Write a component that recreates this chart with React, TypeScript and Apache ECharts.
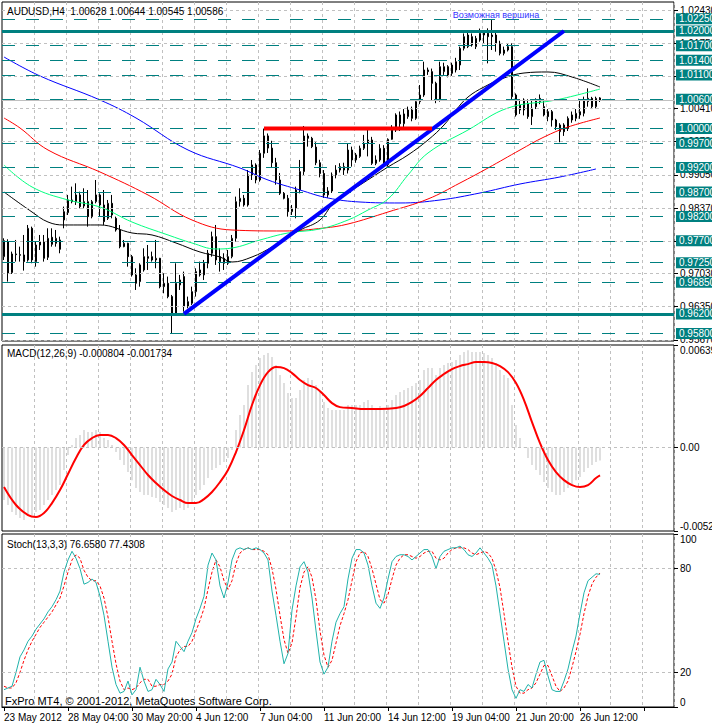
import React, { useEffect, useRef } from "react";
import * as echarts from "echarts";

// ---------- DATA ----------
const opens = [0.97375,0.97683,0.97048,0.9743,0.97416,0.9741,0.97307,0.97956,0.97273,0.97614,0.97683,0.97361,0.97772,0.97648,0.97717,0.98127,0.98277,0.98537,0.98502,0.9864,0.98414,0.98502,0.98195,0.98502,0.9864,0.98434,0.98161,0.98468,0.98161,0.97922,0.9758,0.97649,0.97375,0.97,0.96863,0.97102,0.97375,0.97375,0.97307,0.97341,0.9676,0.96829,0.96556,0.96214,0.96795,0.96966,0.96351,0.96419,0.96658,0.97102,0.97,0.97239,0.97444,0.97785,0.97375,0.97341,0.97239,0.97375,0.97751,0.98502,0.98571,0.98434,0.9905,0.99254,0.98946,0.99493,0.9985,0.996,0.993,0.98946,0.98673,0.98571,0.98297,0.98366,0.98741,0.99118,0.99848,0.998,0.9962,0.993,0.9908,0.9864,0.9872,0.9905,0.9915,0.9922,0.9915,0.9956,0.99357,0.9943,0.99596,0.99698,0.99766,0.99288,0.99357,0.99596,0.9926,0.9978,0.99971,1.00279,1.001,1.00245,1.00381,1.0021,1.00552,1.00688,1.01201,1.01167,1.00928,1.00586,1.01167,1.01269,1.01132,1.01201,1.01303,1.01645,1.01679,1.01884,1.01679,1.01815,1.01986,1.01952,1.01918,1.01918,1.01747,1.01542,1.0161,1.01679,1.00688,1.00381,1.00586,1.00518,1.00245,1.00586,1.00552,1.00449,1.00347,1.00347,1.00176,0.99937,1.00074,1.0,1.00176,1.0021,1.00279,1.00313,1.00552,1.0062,1.00449,1.00628];
const highs = [0.97751,0.97731,0.97478,0.97717,0.9758,0.97819,0.98024,0.9799,0.97683,0.97819,0.97819,0.97956,0.97956,0.97922,0.97785,0.984,0.9864,0.9881,0.98878,0.98707,0.98776,0.98741,0.98537,0.98946,0.98673,0.98741,0.98537,0.9864,0.98195,0.98024,0.97717,0.9766,0.9741,0.97136,0.97239,0.97546,0.97614,0.97478,0.97717,0.9735,0.97034,0.96966,0.9659,0.97239,0.97,0.97068,0.96556,0.9676,0.97136,0.97273,0.97307,0.97512,0.97888,0.98024,0.97546,0.97444,0.97512,0.97819,0.98605,0.98776,0.9864,0.99151,0.99356,0.99288,0.99561,1.0,0.999,0.9975,0.994,0.9909,0.987,0.9864,0.98434,0.9881,0.99357,1.00053,0.999,0.9983,0.9972,0.9936,0.9915,0.988,0.991,0.9925,0.9929,0.993,0.997,0.9963,0.995,0.9965,0.9987,1.0,0.9983,0.9945,0.9968,0.9966,0.998,1.0007,1.00313,1.0035,1.004,1.0045,1.0045,1.006,1.00893,1.01371,1.0125,1.0123,1.0096,1.01371,1.0135,1.013,1.0135,1.0145,1.01679,1.0195,1.0199,1.0195,1.019,1.0205,1.0202,1.02055,1.02225,1.01986,1.018,1.0168,1.0175,1.01747,1.0072,1.006,1.0062,1.006,1.00586,1.0062,1.007,1.006,1.004,1.0038,1.002,1.0011,1.0011,1.0025,1.0035,1.004,1.006,1.00654,1.00825,1.0065,1.00654,1.00644];
const lows = [0.97307,0.96863,0.9702,0.97273,0.97273,0.97089,0.97273,0.9724,0.9717,0.97512,0.97273,0.97307,0.9758,0.9758,0.97444,0.97956,0.98229,0.98468,0.98434,0.98366,0.98366,0.9799,0.98161,0.98468,0.98195,0.98024,0.98127,0.98161,0.97888,0.97546,0.97567,0.9717,0.96966,0.96692,0.9676,0.97068,0.97102,0.97273,0.97136,0.96726,0.96624,0.96522,0.95804,0.9618,0.96692,0.96248,0.96317,0.96385,0.96556,0.96966,0.96897,0.97136,0.97375,0.97205,0.97068,0.97102,0.97205,0.97341,0.97683,0.984,0.984,0.984,0.98946,0.98878,0.98912,0.994,0.995,0.992,0.9885,0.98639,0.9855,0.98195,0.98229,0.98161,0.98672,0.9905,0.9963,0.996,0.9925,0.99,0.9858,0.9858,0.9868,0.9898,0.991,0.9905,0.9908,0.9922,0.993,0.994,0.99562,0.9943,0.99255,0.9925,0.9932,0.9922,0.9922,0.9977,0.9993,0.9995,1.0,1.002,1.0015,1.0018,1.005,1.0065,1.011,1.00586,1.0052,1.00552,1.011,1.0105,1.0108,1.0115,1.01201,1.016,1.0165,1.0168,1.0163,1.0178,1.01747,1.01337,1.0161,1.01576,1.015,1.015,1.0158,1.00586,1.00245,1.003,1.0027,1.002,1.00074,1.004,1.005,1.0025,1.0015,1.0004,0.9997,0.9972,0.9985,0.9995,1.0012,1.0015,1.002,1.0025,1.00449,1.004,1.00415,1.00545];
const closes = [0.97703,0.97034,0.9743,0.97416,0.97403,0.97273,0.97956,0.97307,0.97614,0.97683,0.97341,0.97751,0.97628,0.97751,0.97526,0.98297,0.98537,0.98502,0.9864,0.984,0.98502,0.98195,0.98502,0.9864,0.98434,0.98093,0.98468,0.98229,0.97922,0.9758,0.97649,0.97375,0.97,0.96829,0.97205,0.97375,0.97341,0.97307,0.97341,0.9676,0.96829,0.96556,0.96214,0.96829,0.96897,0.96351,0.96453,0.96658,0.97068,0.97,0.97239,0.97444,0.97785,0.97307,0.97273,0.97239,0.97375,0.97751,0.98502,0.98571,0.98434,0.9905,0.99254,0.98946,0.99493,0.9985,0.996,0.993,0.98946,0.98673,0.98571,0.98297,0.98366,0.98741,0.99118,0.99848,0.998,0.9963,0.993,0.9908,0.9864,0.9872,0.9905,0.9915,0.9922,0.9915,0.9956,0.99357,0.9946,0.99596,0.99698,0.99766,0.99288,0.99357,0.99596,0.9926,0.9978,1.00005,1.00279,1.001,1.003,1.00381,1.0021,1.00552,1.00688,1.01201,1.01167,1.00928,1.00586,1.01269,1.01269,1.01098,1.01303,1.01371,1.01645,1.01884,1.01918,1.01713,1.01849,1.01952,1.01918,1.01884,1.01884,1.01747,1.01542,1.0161,1.01679,1.00654,1.00279,1.00483,1.00381,1.00245,1.00415,1.00449,1.0062,1.00279,1.00245,1.00176,1.0004,1.00074,0.99937,1.0021,1.00279,1.00313,1.00347,1.00586,1.0062,1.00449,1.0062,1.00586];

// moving averages, read at points along each line: [bar, price]
const maBlack = [[0,0.987],[7,0.9829],[11,0.98085],[15,0.98024],[24,0.98024],[32,0.9786],[37,0.97819],[43,0.97655],[49,0.9747],[54,0.97368],[57,0.97265],[62,0.97368],[67,0.97573],[71,0.97778],[74,0.97921],[79,0.98126],[83,0.98536],[89,0.98844],[96,0.99213],[101,0.99459],[106,0.99766],[110,1.00073],[113,1.00381],[116,1.00647],[120,1.00852],[125,1.01037],[130,1.01139],[136,1.0116],[142,1.01057],[149,1.00852]];
const maGreen = [[0,0.99254],[7,0.98803],[16,0.98536],[24,0.98393],[32,0.98085],[41,0.97819],[47,0.97655],[53,0.97532],[57,0.97552],[64,0.97716],[71,0.9786],[79,0.97942],[86,0.98126],[91,0.98331],[96,0.98557],[101,0.99049],[106,0.995],[116,0.99971],[126,1.00422],[138,1.00586],[149,1.00811]];
const maRed = [[0,1.00217],[4,1.00012],[11,0.99561],[24,0.9911],[36,0.98639],[47,0.98126],[57,0.97921],[70,0.97901],[80,0.97962],[86,0.98044],[96,0.9829],[106,0.98557],[114,0.98885],[121,0.99192],[129,0.99561],[135,0.99827],[141,1.00032],[149,1.00217]];
const maBlue = [[0,1.01467],[9,1.01078],[24,1.00586],[33,1.00217],[46,0.99561],[59,0.99192],[66,0.98946],[74,0.98741],[81,0.98577],[89,0.98495],[99,0.98475],[109,0.98536],[119,0.9868],[129,0.98864],[139,0.99008],[148,0.99172]];

const trendLine = [[45,0.962],[140,1.02]];
const resistanceLine = [[65,1.0],[107,1.0]];
const tealLevels = [1.0225,1.017,1.014,1.011,1.006,1.0,0.997,0.992,0.987,0.982,0.977,0.9725,0.9685,0.958];
const solidLevels = [1.02,0.962];
const bidPrice = 1.00586;
const priceTicks = [1.0243,1.0175,1.0107,1.0041,0.9973,0.9905,0.9837,0.9769,0.9703,0.9635,0.9567];

const macdMain = [-0.00327,-0.00358,-0.00402,-0.00421,-0.00439,-0.00452,-0.00421,-0.00421,-0.00402,-0.00389,-0.00358,-0.00327,-0.00296,-0.00265,-0.00234,-0.0014,-0.00047,0.00016,0.00059,0.00078,0.00109,0.00097,0.00097,0.00109,0.00097,0.00059,0.00047,0.00016,-0.00028,-0.00078,-0.00109,-0.00153,-0.00203,-0.00252,-0.00277,-0.00296,-0.00296,-0.00308,-0.00315,-0.0034,-0.00358,-0.00377,-0.00402,-0.00389,-0.00377,-0.00389,-0.00377,-0.0034,-0.00296,-0.00265,-0.00234,-0.0019,-0.0014,-0.00128,-0.00109,-0.0009,-0.00065,-0.00016,0.00109,0.00203,0.00265,0.00389,0.0047,0.00514,0.00558,0.00576,0.00589,0.00564,0.00514,0.00452,0.00402,0.0034,0.00308,0.00308,0.00358,0.00421,0.00433,0.00421,0.00389,0.00346,0.00284,0.00246,0.00234,0.00234,0.00234,0.00234,0.00265,0.00265,0.00265,0.00265,0.00284,0.00296,0.00265,0.00246,0.00259,0.00234,0.00265,0.00296,0.00327,0.00346,0.00358,0.00371,0.00383,0.00402,0.00421,0.00483,0.00495,0.00495,0.00452,0.00495,0.00514,0.00527,0.00533,0.00545,0.00576,0.00595,0.00607,0.00595,0.00595,0.00595,0.00589,0.00576,0.00558,0.00527,0.00483,0.00452,0.00433,0.00265,0.0014,0.00059,-0.00003,-0.00065,-0.00109,-0.0014,-0.00171,-0.00215,-0.00252,-0.00277,-0.00296,-0.00296,-0.00277,-0.00252,-0.00234,-0.00203,-0.00184,-0.00153,-0.00128,-0.00109,-0.0009,-0.000804];
const macdSignal = [[0,-0.00246],[3,-0.00358],[6,-0.00421],[8,-0.00433],[10,-0.00408],[12,-0.00346],[14,-0.00265],[16,-0.00165],[18,-0.00065],[20,0.00016],[22,0.00059],[24,0.00078],[26,0.00078],[28,0.00059],[30,0.00016],[32,-0.00047],[34,-0.00109],[36,-0.00171],[38,-0.00221],[40,-0.00265],[42,-0.00302],[44,-0.00327],[46,-0.00346],[48,-0.00346],[50,-0.00321],[52,-0.00277],[54,-0.00215],[56,-0.0014],[58,-0.00028],[60,0.00109],[62,0.00265],[64,0.00389],[66,0.0047],[68,0.00502],[70,0.00495],[72,0.00464],[74,0.00421],[76,0.00389],[78,0.00371],[80,0.00327],[82,0.00277],[84,0.00252],[87,0.00246],[90,0.0024],[94,0.0024],[98,0.00246],[100,0.00259],[102,0.00284],[104,0.00321],[106,0.00371],[108,0.00421],[110,0.00458],[112,0.00489],[114,0.00508],[116,0.0052],[118,0.00533],[120,0.00533],[122,0.00527],[124,0.00508],[126,0.0047],[128,0.00402],[130,0.00296],[132,0.00159],[134,0.00028],[136,-0.00078],[138,-0.00153],[140,-0.00203],[142,-0.00234],[144,-0.00246],[146,-0.00234],[148,-0.0019],[149,-0.001734]];

const stochMain = [10,11,12,20,29,33,38,41,45,48,51,55,58,62,67,78,85,90,86,80,71,72,74,72,64,53,38,23,13,8,9,15,7,10,23,15,9,10,16,13,9,22,26,38,35,32,38,43,51,57,64,82,89,85,70,63,72,85,91,92,91,92,91,92,91,89,85,67,53,38,25,31,56,70,81,84,78,63,44,26,19,23,38,49,54,58,74,86,91,91,89,82,70,60,57,63,74,84,87,88,88,87,85,87,89,91,91,87,80,87,90,91,92,92,93,91,88,87,89,92,89,86,82,70,54,38,22,10,5,10,9,13,11,19,26,27,18,10,9,9,15,22,32,41,54,66,73,75,77,76.658];
const stochSignal = [12,11,11,14,20,27,33,38,42,46,49,52,55,59,63,70,78,85,88,86,79,75,73,73,70,63,52,38,25,15,10,11,10,11,14,16,16,12,12,13,13,15,19,29,33,35,35,38,44,50,57,68,78,85,81,73,68,73,83,89,91,92,91,91,91,90,88,80,68,53,39,31,37,52,69,78,81,75,62,44,30,23,27,37,47,54,62,73,84,89,90,87,80,71,62,60,65,74,82,86,88,88,87,86,87,89,90,90,86,85,86,89,91,92,92,92,91,89,88,89,90,89,86,79,69,54,38,23,12,8,8,10,11,14,19,24,24,18,12,9,11,15,23,32,42,54,64,71,75,77.4308];

const tickLabels = ["23 May 2012","28 May 04:00","30 May 20:00","4 Jun 12:00","7 Jun 04:00","11 Jun 20:00","14 Jun 12:00","19 Jun 04:00","21 Jun 20:00","26 Jun 12:00"];

// H4 time slots (weekends skipped), 150 bars + empty right margin
const MONTHS = ["Jan","Feb","Mar","Apr","May","Jun","Jul","Aug","Sep","Oct","Nov","Dec"];
const categories: string[] = [];
{
  let t = Date.UTC(2012, 4, 23, 12);
  while (categories.length < 168) {
    const d = new Date(t);
    const wd = d.getUTCDay();
    if (wd !== 0 && wd !== 6) {
      const hh = String(d.getUTCHours()).padStart(2, "0");
      categories.push(`${d.getUTCDate()} ${MONTHS[d.getUTCMonth()]} ${hh}:00`);
    }
    t += 4 * 3600 * 1000;
  }
}

const FONT = "'Liberation Sans', Arial, sans-serif";
const TEAL = "#008080";
const GRIDC = "#c0c0c0";

function buildOption() {
  const candles = opens.map((o, i) => [o, closes[i], lows[i], highs[i]]);
  const gridBase = {
    left: 2, width: 672, show: true, borderColor: "#000", borderWidth: 1,
    backgroundColor: "transparent", containLabel: false, outerBoundsMode: "none",
  };
  const xAxes = [0, 1, 2].map((g) => ({
    type: "category", gridIndex: g, data: categories, boundaryGap: true,
    axisLine: { show: g === 2, lineStyle: { color: "#000" } },
    axisTick: { show: g === 2, interval: 15, alignWithLabel: true, length: 4, lineStyle: { color: "#000" } },
    axisLabel: {
      show: g === 2, interval: 15, align: "left", color: "#000", fontSize: 10, fontFamily: FONT, margin: 5,
      formatter: (_v: string, idx: number) => tickLabels[idx / 16] ?? "",
    },
    splitLine: { show: true, interval: (idx: number) => idx % 8 === 0 && idx > 0, lineStyle: { color: GRIDC, type: [3, 3], width: 1 } },
  }));
  const lab = { color: "#000", fontSize: 10, fontFamily: FONT, margin: 6 };
  const yAxes = [
    {
      type: "value", gridIndex: 0, position: "right", min: 0.95646, max: 1.025944, scale: true,
      splitLine: { show: false }, axisLine: { show: false },
      axisTick: { show: true, length: 4, customValues: priceTicks, lineStyle: { color: "#000" } },
      axisLabel: { ...lab, customValues: priceTicks, formatter: (v: number) => v.toFixed(5) },
    },
    {
      type: "value", gridIndex: 1, position: "right", min: -0.0052, max: 0.00639,
      splitLine: { show: false }, axisLine: { show: false },
      axisTick: { show: true, length: 4, customValues: [-0.0052, 0, 0.00639], lineStyle: { color: "#000" } },
      axisLabel: {
        ...lab, customValues: [-0.0052, 0, 0.00639], verticalAlignMinLabel: "bottom", verticalAlignMaxLabel: "top",
        formatter: (v: number) => (Math.abs(v) < 1e-9 ? "0.00" : v.toFixed(5)),
      },
    },
    {
      type: "value", gridIndex: 2, position: "right", min: 0, max: 100,
      splitLine: { show: false }, axisLine: { show: false },
      axisTick: { show: true, length: 4, customValues: [0, 20, 80, 100], lineStyle: { color: "#000" } },
      axisLabel: {
        ...lab, customValues: [0, 20, 80, 100], verticalAlignMinLabel: "bottom", verticalAlignMaxLabel: "top",
        formatter: (v: number) => String(v),
      },
    },
  ];
  const maSeries = (data: number[][], color: string) => ({
    type: "line", xAxisIndex: 0, yAxisIndex: 0, data, smooth: 0.4, showSymbol: false, symbol: "none",
    lineStyle: { color, width: 1 }, z: 4, silent: true,
  });
  const titleStyle = { fontSize: 10, fontWeight: "normal", color: "#000", fontFamily: FONT };
  return {
    animation: false,
    backgroundColor: "#fff",
    textStyle: { fontFamily: FONT },
    title: [
      { text: "AUDUSD,H4  1.00628 1.00644 1.00545 1.00586", left: 7, top: 6, padding: 0, textStyle: titleStyle },
      { text: "MACD(12,26,9) -0.000804 -0.001734", left: 7, top: 348, padding: 0, textStyle: titleStyle },
      { text: "Stoch(13,3,3) 76.6580 77.4308", left: 7, top: 539, padding: 0, textStyle: titleStyle },
      { text: "FxPro MT4, © 2001-2012, MetaQuotes Software Corp.", left: 5, top: 695, padding: 0, textStyle: { ...titleStyle, fontSize: 11 } },
    ],
    grid: [
      { ...gridBase, top: 2, height: 339 },
      { ...gridBase, top: 345, height: 186 },
      { ...gridBase, top: 534, height: 173 },
    ],
    xAxis: xAxes,
    yAxis: yAxes,
    series: [
      {
        type: "line", xAxisIndex: 0, yAxisIndex: 0, data: [], z: 1, silent: true,
        markLine: {
          silent: true, symbol: "none", animation: false, precision: 6, label: { show: false },
          lineStyle: { color: GRIDC, type: [3, 3], width: 1 },
          data: [
            ...priceTicks.map((v) => ({ yAxis: v })),
            { yAxis: bidPrice, lineStyle: { color: GRIDC, type: "solid", width: 1 } },
          ],
        },
      },
      {
        type: "line", xAxisIndex: 0, yAxisIndex: 0, data: [], z: 2, silent: true,
        markLine: {
          silent: true, symbol: "none", animation: false, precision: 6,
          label: {
            show: true, position: "end", distance: 2, color: "#fff", backgroundColor: TEAL,
            padding: [1, 3, 0, 3], fontSize: 10, fontFamily: FONT,
            formatter: (p: any) => Number(p.value).toFixed(5),
          },
          lineStyle: { color: TEAL, type: [13, 11], width: 1 },
          data: [
            ...tealLevels.map((v) => ({ yAxis: v })),
            ...solidLevels.map((v) => ({ yAxis: v, lineStyle: { color: TEAL, type: "solid", width: 3 } })),
          ],
        },
      },
      {
        type: "candlestick", xAxisIndex: 0, yAxisIndex: 0, data: candles, barWidth: 2, z: 3, silent: true,
        itemStyle: { color: "#fff", color0: "#000", borderColor: "#000", borderColor0: "#000", borderWidth: 1 },
        markPoint: {
          silent: true, animation: false,
          data: [{
            coord: [123, 1.0233], symbol: "circle", symbolSize: 0,
            label: { show: true, position: "inside", formatter: "Возможная вершина", color: "#3535ff", fontSize: 9, fontFamily: FONT },
          }],
        },
      },
      maSeries(maBlue, "#0000ff"),
      maSeries(maRed, "#ff0000"),
      maSeries(maGreen, "#00ff7f"),
      maSeries(maBlack, "#000000"),
      {
        type: "line", xAxisIndex: 0, yAxisIndex: 0, data: trendLine, showSymbol: false, symbol: "none",
        lineStyle: { color: "#0000ff", width: 4 }, z: 5, silent: true,
      },
      {
        type: "line", xAxisIndex: 0, yAxisIndex: 0, data: resistanceLine, showSymbol: false, symbol: "none",
        lineStyle: { color: "#ff0000", width: 4 }, z: 5, silent: true,
      },
      {
        type: "bar", xAxisIndex: 1, yAxisIndex: 1, data: macdMain, barWidth: 1, silent: true,
        itemStyle: { color: GRIDC },
        markLine: {
          silent: true, symbol: "none", animation: false, precision: 6, label: { show: false },
          lineStyle: { color: GRIDC, type: [3, 3], width: 1 }, data: [{ yAxis: 0 }],
        },
      },
      {
        type: "line", xAxisIndex: 1, yAxisIndex: 1, data: macdSignal, smooth: 0.4, showSymbol: false, symbol: "none",
        lineStyle: { color: "#ff0000", width: 2 }, silent: true, z: 4,
      },
      {
        type: "line", xAxisIndex: 2, yAxisIndex: 2, data: stochSignal, showSymbol: false, symbol: "none",
        lineStyle: { color: "#ff0000", width: 1, type: [3, 2] }, silent: true,
        markLine: {
          silent: true, symbol: "none", animation: false, precision: 6, label: { show: false },
          lineStyle: { color: GRIDC, type: [3, 3], width: 1 }, data: [{ yAxis: 20 }, { yAxis: 80 }],
        },
      },
      {
        type: "line", xAxisIndex: 2, yAxisIndex: 2, data: stochMain, showSymbol: false, symbol: "none",
        lineStyle: { color: "#20b2aa", width: 1 }, silent: true,
      },
    ],
  };
}

export default function App() {
  const ref = useRef<HTMLDivElement>(null);
  useEffect(() => {
    if (!ref.current) return;
    const chart = echarts.init(ref.current, null, { renderer: "svg" });
    chart.setOption(buildOption() as any);
    return () => chart.dispose();
  }, []);
  return (
    <div
      ref={ref}
      style={{ position: "fixed", left: 0, top: 0, width: 712, height: 725, background: "#fff" }}
    />
  );
}
